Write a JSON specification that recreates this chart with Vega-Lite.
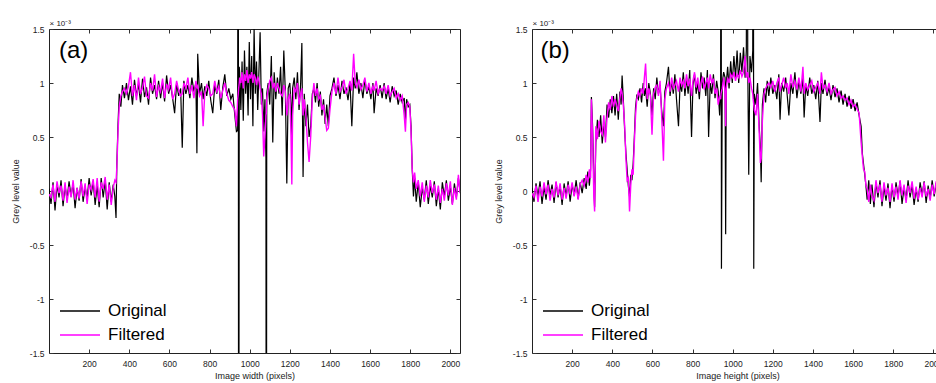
{
"$schema":"https://vega.github.io/schema/vega-lite/v6.json",
"background":"white",
"padding":{"left":10,"top":18,"right":0,"bottom":0},
"spacing":72,
"bounds":"flush",
"datasets":{
"a":[
{"x":0,"Original":0.02,"Filtered":-0.03},{"x":10,"Original":-0.12,"Filtered":-0.06},{"x":20,"Original":0.08,"Filtered":0.06},{"x":30,"Original":-0.18,"Filtered":-0.1},{"x":40,"Original":0.06,"Filtered":0.09},{"x":50,"Original":-0.06,"Filtered":-0.02},{"x":60,"Original":0.1,"Filtered":0.05},{"x":70,"Original":-0.14,"Filtered":-0.09},{"x":80,"Original":0.05,"Filtered":0.08},{"x":90,"Original":-0.08,"Filtered":-0.11},{"x":100,"Original":0.09,"Filtered":0.04},{"x":110,"Original":-0.05,"Filtered":-0.06},{"x":120,"Original":0.07,"Filtered":0.1},{"x":130,"Original":-0.16,"Filtered":-0.08},{"x":140,"Original":0.03,"Filtered":0.03},{"x":150,"Original":-0.09,"Filtered":-0.07},{"x":160,"Original":0.11,"Filtered":0.09},{"x":170,"Original":-0.1,"Filtered":-0.05},{"x":180,"Original":0.04,"Filtered":0.07},{"x":190,"Original":-0.07,"Filtered":-0.12},{"x":200,"Original":0.12,"Filtered":0.06},{"x":210,"Original":-0.04,"Filtered":0.01},{"x":220,"Original":0.09,"Filtered":0.11},{"x":230,"Original":-0.13,"Filtered":-0.06},{"x":240,"Original":0.05,"Filtered":0.12},{"x":250,"Original":-0.15,"Filtered":-0.1},{"x":260,"Original":0.12,"Filtered":0.08},{"x":270,"Original":-0.06,"Filtered":0.02},{"x":280,"Original":0.1,"Filtered":0.13},{"x":290,"Original":-0.17,"Filtered":-0.08},{"x":300,"Original":0.08,"Filtered":0.06},{"x":310,"Original":-0.1,"Filtered":-0.13},{"x":320,"Original":0.06,"Filtered":0.03},{"x":328,"Original":-0.05,"Filtered":0.1},{"x":334,"Original":-0.25,"Filtered":0.08},{"x":338,"Original":0.25,"Filtered":0.22},{"x":344,"Original":0.62,"Filtered":0.55},{"x":350,"Original":0.9,"Filtered":0.78},{"x":358,"Original":0.78,"Filtered":0.88},{"x":366,"Original":0.98,"Filtered":0.92},{"x":376,"Original":0.86,"Filtered":0.95},{"x":386,"Original":1.0,"Filtered":0.9},{"x":396,"Original":0.84,"Filtered":0.97},{"x":406,"Original":0.97,"Filtered":1.1},{"x":416,"Original":0.8,"Filtered":0.88},{"x":426,"Original":1.03,"Filtered":0.98},{"x":436,"Original":0.88,"Filtered":0.84},{"x":446,"Original":0.99,"Filtered":1.05},{"x":456,"Original":0.82,"Filtered":0.9},{"x":466,"Original":1.04,"Filtered":0.96},{"x":476,"Original":0.87,"Filtered":1.06},{"x":486,"Original":0.96,"Filtered":0.88},{"x":496,"Original":0.8,"Filtered":0.86},{"x":506,"Original":1.05,"Filtered":1.0},{"x":516,"Original":0.9,"Filtered":0.93},{"x":526,"Original":0.98,"Filtered":1.08},{"x":536,"Original":0.85,"Filtered":0.87},{"x":546,"Original":1.02,"Filtered":0.97},{"x":556,"Original":0.86,"Filtered":0.92},{"x":566,"Original":1.0,"Filtered":1.04},{"x":576,"Original":0.83,"Filtered":0.86},{"x":586,"Original":1.07,"Filtered":0.99},{"x":596,"Original":0.9,"Filtered":0.94},{"x":606,"Original":0.98,"Filtered":1.05},{"x":616,"Original":0.86,"Filtered":0.85},{"x":626,"Original":0.72,"Filtered":0.9},{"x":636,"Original":1.0,"Filtered":1.02},{"x":646,"Original":0.88,"Filtered":0.93},{"x":656,"Original":0.95,"Filtered":0.88},{"x":664,"Original":0.4,"Filtered":0.9},{"x":672,"Original":1.02,"Filtered":1.0},{"x":682,"Original":0.9,"Filtered":0.95},{"x":692,"Original":0.98,"Filtered":1.05},{"x":702,"Original":0.86,"Filtered":0.9},{"x":712,"Original":1.05,"Filtered":0.98},{"x":722,"Original":0.92,"Filtered":0.86},{"x":732,"Original":1.0,"Filtered":1.02},{"x":737,"Original":0.35,"Filtered":0.95},{"x":741,"Original":1.27,"Filtered":0.97},{"x":750,"Original":0.9,"Filtered":0.88},{"x":760,"Original":1.0,"Filtered":0.92},{"x":768,"Original":0.85,"Filtered":0.6},{"x":776,"Original":0.97,"Filtered":0.9},{"x":786,"Original":0.88,"Filtered":0.98},{"x":796,"Original":1.02,"Filtered":0.95},{"x":806,"Original":0.84,"Filtered":0.88},{"x":816,"Original":0.72,"Filtered":0.9},{"x":826,"Original":0.98,"Filtered":1.02},{"x":836,"Original":0.9,"Filtered":0.92},{"x":846,"Original":1.03,"Filtered":0.97},{"x":856,"Original":0.75,"Filtered":0.86},{"x":866,"Original":0.96,"Filtered":0.93},{"x":876,"Original":1.08,"Filtered":1.0},{"x":886,"Original":0.88,"Filtered":0.9},{"x":896,"Original":0.95,"Filtered":0.84},{"x":906,"Original":0.85,"Filtered":0.82},{"x":916,"Original":0.9,"Filtered":0.78},{"x":926,"Original":0.7,"Filtered":0.75},{"x":934,"Original":0.55,"Filtered":0.6},{"x":940,"Original":0.56,"Filtered":0.85},{"x":943,"Original":5,"Filtered":0.9},{"x":945,"Original":-5,"Filtered":0.95},{"x":948,"Original":1.15,"Filtered":1.0},{"x":950,"Original":1.1,"Filtered":1.05},{"x":956,"Original":0.75,"Filtered":1.0},{"x":962,"Original":1.2,"Filtered":1.1},{"x":968,"Original":0.65,"Filtered":0.95},{"x":974,"Original":1.3,"Filtered":1.08},{"x":980,"Original":0.9,"Filtered":1.02},{"x":986,"Original":1.15,"Filtered":1.12},{"x":992,"Original":0.7,"Filtered":1.0},{"x":998,"Original":1.38,"Filtered":1.08},{"x":1004,"Original":0.85,"Filtered":1.04},{"x":1010,"Original":1.25,"Filtered":1.1},{"x":1016,"Original":0.6,"Filtered":1.0},{"x":1022,"Original":1.5,"Filtered":1.08},{"x":1028,"Original":0.9,"Filtered":1.05},{"x":1034,"Original":1.2,"Filtered":0.98},{"x":1040,"Original":0.75,"Filtered":1.06},{"x":1046,"Original":1.1,"Filtered":1.02},{"x":1052,"Original":1.47,"Filtered":0.95},{"x":1058,"Original":0.8,"Filtered":0.9},{"x":1064,"Original":0.95,"Filtered":0.7},{"x":1070,"Original":0.55,"Filtered":0.32},{"x":1076,"Original":0.85,"Filtered":0.5},{"x":1081,"Original":0.3,"Filtered":0.7},{"x":1083,"Original":-5,"Filtered":0.72},{"x":1085,"Original":0.9,"Filtered":0.85},{"x":1092,"Original":1.0,"Filtered":0.95},{"x":1100,"Original":0.8,"Filtered":1.02},{"x":1108,"Original":1.25,"Filtered":1.05},{"x":1115,"Original":0.45,"Filtered":0.95},{"x":1122,"Original":1.1,"Filtered":1.0},{"x":1130,"Original":0.85,"Filtered":0.92},{"x":1138,"Original":1.05,"Filtered":1.0},{"x":1146,"Original":0.9,"Filtered":0.95},{"x":1154,"Original":1.15,"Filtered":0.9},{"x":1162,"Original":0.7,"Filtered":0.88},{"x":1170,"Original":1.3,"Filtered":0.98},{"x":1178,"Original":0.9,"Filtered":0.92},{"x":1185,"Original":0.07,"Filtered":0.7},{"x":1192,"Original":0.95,"Filtered":0.85},{"x":1200,"Original":1.0,"Filtered":0.9},{"x":1206,"Original":0.8,"Filtered":0.5},{"x":1210,"Original":0.5,"Filtered":0.06},{"x":1214,"Original":0.95,"Filtered":0.7},{"x":1222,"Original":1.05,"Filtered":0.95},{"x":1230,"Original":0.85,"Filtered":0.92},{"x":1238,"Original":1.1,"Filtered":1.0},{"x":1246,"Original":0.75,"Filtered":0.8},{"x":1254,"Original":1.0,"Filtered":0.9},{"x":1260,"Original":1.37,"Filtered":0.95},{"x":1266,"Original":0.13,"Filtered":0.7},{"x":1272,"Original":0.9,"Filtered":0.85},{"x":1280,"Original":0.6,"Filtered":0.7},{"x":1288,"Original":0.8,"Filtered":0.45},{"x":1296,"Original":0.5,"Filtered":0.27},{"x":1304,"Original":0.6,"Filtered":0.5},{"x":1312,"Original":0.9,"Filtered":0.85},{"x":1320,"Original":0.95,"Filtered":1.0},{"x":1328,"Original":0.82,"Filtered":0.88},{"x":1336,"Original":1.0,"Filtered":0.95},{"x":1344,"Original":0.78,"Filtered":0.85},{"x":1352,"Original":0.92,"Filtered":0.88},{"x":1360,"Original":0.7,"Filtered":0.75},{"x":1368,"Original":0.85,"Filtered":0.8},{"x":1376,"Original":0.62,"Filtered":0.68},{"x":1384,"Original":0.8,"Filtered":0.56},{"x":1392,"Original":0.6,"Filtered":0.58},{"x":1400,"Original":0.88,"Filtered":0.75},{"x":1410,"Original":0.95,"Filtered":0.92},{"x":1420,"Original":1.05,"Filtered":1.0},{"x":1430,"Original":0.88,"Filtered":0.9},{"x":1440,"Original":0.98,"Filtered":1.05},{"x":1450,"Original":0.85,"Filtered":0.92},{"x":1460,"Original":1.02,"Filtered":0.96},{"x":1470,"Original":0.9,"Filtered":1.03},{"x":1480,"Original":0.96,"Filtered":0.9},{"x":1490,"Original":0.84,"Filtered":0.95},{"x":1500,"Original":1.0,"Filtered":1.02},{"x":1509,"Original":0.6,"Filtered":0.93},{"x":1518,"Original":1.05,"Filtered":1.27},{"x":1526,"Original":0.95,"Filtered":1.0},{"x":1534,"Original":1.1,"Filtered":0.96},{"x":1544,"Original":0.9,"Filtered":1.03},{"x":1554,"Original":1.0,"Filtered":0.94},{"x":1564,"Original":0.86,"Filtered":0.98},{"x":1574,"Original":1.03,"Filtered":1.05},{"x":1584,"Original":0.9,"Filtered":0.92},{"x":1594,"Original":0.97,"Filtered":1.0},{"x":1604,"Original":0.85,"Filtered":0.9},{"x":1614,"Original":1.0,"Filtered":0.97},{"x":1620,"Original":0.72,"Filtered":0.93},{"x":1630,"Original":0.95,"Filtered":1.02},{"x":1640,"Original":0.88,"Filtered":0.9},{"x":1650,"Original":0.98,"Filtered":0.95},{"x":1660,"Original":0.86,"Filtered":0.93},{"x":1670,"Original":1.0,"Filtered":0.97},{"x":1680,"Original":0.85,"Filtered":0.9},{"x":1690,"Original":0.95,"Filtered":0.98},{"x":1700,"Original":0.82,"Filtered":0.88},{"x":1710,"Original":0.97,"Filtered":0.92},{"x":1720,"Original":0.88,"Filtered":0.95},{"x":1730,"Original":0.93,"Filtered":0.86},{"x":1740,"Original":0.8,"Filtered":0.9},{"x":1750,"Original":0.9,"Filtered":0.84},{"x":1760,"Original":0.82,"Filtered":0.88},{"x":1770,"Original":0.86,"Filtered":0.7},{"x":1776,"Original":0.65,"Filtered":0.55},{"x":1782,"Original":0.85,"Filtered":0.8},{"x":1790,"Original":0.78,"Filtered":0.82},{"x":1798,"Original":0.8,"Filtered":0.78},{"x":1804,"Original":0.6,"Filtered":0.55},{"x":1810,"Original":0.2,"Filtered":0.2},{"x":1816,"Original":-0.05,"Filtered":0.08},{"x":1822,"Original":0.12,"Filtered":0.17},{"x":1830,"Original":-0.1,"Filtered":0.02},{"x":1840,"Original":0.08,"Filtered":0.1},{"x":1850,"Original":-0.15,"Filtered":-0.05},{"x":1860,"Original":0.03,"Filtered":0.08},{"x":1870,"Original":-0.08,"Filtered":-0.1},{"x":1880,"Original":0.1,"Filtered":0.05},{"x":1890,"Original":-0.12,"Filtered":-0.06},{"x":1900,"Original":0.05,"Filtered":0.1},{"x":1910,"Original":-0.06,"Filtered":-0.02},{"x":1920,"Original":0.09,"Filtered":0.06},{"x":1930,"Original":-0.14,"Filtered":-0.08},{"x":1940,"Original":0.02,"Filtered":0.05},{"x":1950,"Original":-0.17,"Filtered":-0.11},{"x":1960,"Original":0.08,"Filtered":0.02},{"x":1970,"Original":-0.05,"Filtered":-0.09},{"x":1980,"Original":0.1,"Filtered":0.07},{"x":1990,"Original":-0.09,"Filtered":-0.04},{"x":2000,"Original":0.04,"Filtered":0.09},{"x":2010,"Original":-0.12,"Filtered":-0.13},{"x":2020,"Original":0.07,"Filtered":0.03},{"x":2030,"Original":-0.06,"Filtered":-0.08},{"x":2040,"Original":0.12,"Filtered":0.15},{"x":2048,"Original":0.0,"Filtered":-0.02}
],
"b":[
{"x":0,"Original":0.03,"Filtered":-0.02},{"x":10,"Original":-0.1,"Filtered":-0.06},{"x":20,"Original":0.07,"Filtered":0.05},{"x":30,"Original":-0.05,"Filtered":-0.1},{"x":40,"Original":0.09,"Filtered":0.04},{"x":50,"Original":-0.12,"Filtered":-0.05},{"x":60,"Original":0.04,"Filtered":0.08},{"x":70,"Original":-0.08,"Filtered":-0.03},{"x":80,"Original":0.1,"Filtered":0.06},{"x":90,"Original":-0.04,"Filtered":-0.09},{"x":100,"Original":0.06,"Filtered":0.02},{"x":110,"Original":-0.11,"Filtered":-0.06},{"x":120,"Original":0.08,"Filtered":0.09},{"x":130,"Original":-0.06,"Filtered":-0.04},{"x":140,"Original":0.05,"Filtered":0.07},{"x":150,"Original":-0.13,"Filtered":-0.08},{"x":160,"Original":0.07,"Filtered":0.03},{"x":170,"Original":-0.05,"Filtered":-0.07},{"x":180,"Original":0.09,"Filtered":0.06},{"x":190,"Original":-0.1,"Filtered":-0.03},{"x":200,"Original":0.06,"Filtered":0.08},{"x":210,"Original":-0.04,"Filtered":-0.05},{"x":220,"Original":0.1,"Filtered":0.04},{"x":230,"Original":-0.07,"Filtered":-0.08},{"x":240,"Original":0.08,"Filtered":0.06},{"x":250,"Original":-0.02,"Filtered":0.1},{"x":260,"Original":0.12,"Filtered":0.05},{"x":270,"Original":0.02,"Filtered":0.15},{"x":278,"Original":0.18,"Filtered":0.08},{"x":286,"Original":0.05,"Filtered":0.2},{"x":292,"Original":0.2,"Filtered":0.12},{"x":296,"Original":0.87,"Filtered":0.85},{"x":302,"Original":0.6,"Filtered":0.5},{"x":308,"Original":0.1,"Filtered":-0.05},{"x":312,"Original":-0.15,"Filtered":-0.19},{"x":318,"Original":0.45,"Filtered":0.6},{"x":326,"Original":0.66,"Filtered":0.48},{"x":334,"Original":0.5,"Filtered":0.65},{"x":342,"Original":0.7,"Filtered":0.55},{"x":350,"Original":0.44,"Filtered":0.52},{"x":358,"Original":0.62,"Filtered":0.7},{"x":366,"Original":0.5,"Filtered":0.45},{"x":374,"Original":0.8,"Filtered":0.68},{"x":382,"Original":0.68,"Filtered":0.82},{"x":390,"Original":0.85,"Filtered":0.75},{"x":398,"Original":0.72,"Filtered":0.88},{"x":406,"Original":0.88,"Filtered":0.78},{"x":414,"Original":0.7,"Filtered":0.85},{"x":422,"Original":0.9,"Filtered":0.8},{"x":430,"Original":0.66,"Filtered":0.74},{"x":438,"Original":0.92,"Filtered":0.86},{"x":444,"Original":0.8,"Filtered":0.95},{"x":449,"Original":1.07,"Filtered":0.9},{"x":455,"Original":0.85,"Filtered":0.8},{"x":462,"Original":0.55,"Filtered":0.6},{"x":468,"Original":0.35,"Filtered":0.3},{"x":474,"Original":0.2,"Filtered":0.1},{"x":480,"Original":0.05,"Filtered":0.12},{"x":486,"Original":-0.05,"Filtered":-0.19},{"x":492,"Original":0.15,"Filtered":0.05},{"x":498,"Original":0.1,"Filtered":0.2},{"x":504,"Original":0.25,"Filtered":0.15},{"x":510,"Original":0.5,"Filtered":0.45},{"x":516,"Original":0.78,"Filtered":0.7},{"x":522,"Original":0.88,"Filtered":0.85},{"x":530,"Original":0.85,"Filtered":0.92},{"x":538,"Original":0.95,"Filtered":0.88},{"x":546,"Original":0.82,"Filtered":0.95},{"x":554,"Original":1.0,"Filtered":0.9},{"x":560,"Original":0.88,"Filtered":1.05},{"x":566,"Original":0.95,"Filtered":1.18},{"x":574,"Original":0.78,"Filtered":0.85},{"x":582,"Original":1.0,"Filtered":0.95},{"x":590,"Original":0.9,"Filtered":0.88},{"x":598,"Original":0.7,"Filtered":0.52},{"x":606,"Original":0.95,"Filtered":0.9},{"x":614,"Original":0.85,"Filtered":0.96},{"x":622,"Original":1.05,"Filtered":0.98},{"x":630,"Original":0.9,"Filtered":0.88},{"x":638,"Original":0.98,"Filtered":1.02},{"x":646,"Original":0.75,"Filtered":0.7},{"x":655,"Original":0.6,"Filtered":0.28},{"x":662,"Original":0.92,"Filtered":0.85},{"x":670,"Original":1.0,"Filtered":0.95},{"x":680,"Original":1.15,"Filtered":1.0},{"x":688,"Original":0.88,"Filtered":0.92},{"x":696,"Original":1.02,"Filtered":1.05},{"x":704,"Original":0.9,"Filtered":0.95},{"x":712,"Original":1.08,"Filtered":0.98},{"x":720,"Original":0.85,"Filtered":1.02},{"x":730,"Original":0.6,"Filtered":0.92},{"x":738,"Original":1.0,"Filtered":1.05},{"x":746,"Original":0.92,"Filtered":0.98},{"x":754,"Original":1.1,"Filtered":1.02},{"x":762,"Original":0.88,"Filtered":0.95},{"x":770,"Original":1.05,"Filtered":1.08},{"x":778,"Original":0.9,"Filtered":0.97},{"x":786,"Original":1.12,"Filtered":1.04},{"x":795,"Original":0.5,"Filtered":0.88},{"x":802,"Original":0.98,"Filtered":1.02},{"x":810,"Original":1.08,"Filtered":1.1},{"x":818,"Original":0.9,"Filtered":0.96},{"x":826,"Original":1.0,"Filtered":1.05},{"x":834,"Original":0.85,"Filtered":0.92},{"x":842,"Original":1.1,"Filtered":1.0},{"x":850,"Original":0.95,"Filtered":1.06},{"x":858,"Original":1.05,"Filtered":0.94},{"x":866,"Original":0.88,"Filtered":1.0},{"x":874,"Original":1.12,"Filtered":1.05},{"x":880,"Original":0.5,"Filtered":0.95},{"x":888,"Original":1.0,"Filtered":1.08},{"x":896,"Original":0.9,"Filtered":1.0},{"x":904,"Original":1.08,"Filtered":1.04},{"x":912,"Original":0.86,"Filtered":0.9},{"x":920,"Original":1.02,"Filtered":0.95},{"x":928,"Original":0.92,"Filtered":0.8},{"x":935,"Original":0.7,"Filtered":0.88},{"x":940,"Original":0.95,"Filtered":0.85},{"x":942,"Original":5,"Filtered":0.9},{"x":944,"Original":-0.72,"Filtered":0.92},{"x":948,"Original":1.0,"Filtered":0.95},{"x":955,"Original":1.1,"Filtered":1.05},{"x":962,"Original":1.05,"Filtered":0.9},{"x":965,"Original":-0.4,"Filtered":0.6},{"x":968,"Original":1.0,"Filtered":0.95},{"x":975,"Original":1.15,"Filtered":1.05},{"x":982,"Original":0.95,"Filtered":1.0},{"x":990,"Original":1.2,"Filtered":1.08},{"x":998,"Original":1.0,"Filtered":1.05},{"x":1006,"Original":1.25,"Filtered":1.1},{"x":1014,"Original":1.05,"Filtered":1.02},{"x":1022,"Original":1.3,"Filtered":1.08},{"x":1030,"Original":1.0,"Filtered":1.05},{"x":1038,"Original":1.28,"Filtered":1.12},{"x":1046,"Original":1.1,"Filtered":1.06},{"x":1054,"Original":1.33,"Filtered":1.1},{"x":1062,"Original":1.05,"Filtered":1.25},{"x":1068,"Original":1.3,"Filtered":1.05},{"x":1072,"Original":5,"Filtered":1.08},{"x":1075,"Original":1.2,"Filtered":1.1},{"x":1080,"Original":0.15,"Filtered":1.0},{"x":1086,"Original":1.25,"Filtered":1.05},{"x":1094,"Original":1.1,"Filtered":0.95},{"x":1100,"Original":1.3,"Filtered":0.9},{"x":1102,"Original":5,"Filtered":0.85},{"x":1105,"Original":-0.72,"Filtered":0.8},{"x":1108,"Original":0.9,"Filtered":0.75},{"x":1116,"Original":0.8,"Filtered":0.7},{"x":1124,"Original":1.0,"Filtered":0.9},{"x":1132,"Original":0.6,"Filtered":0.55},{"x":1138,"Original":0.4,"Filtered":0.26},{"x":1142,"Original":0.08,"Filtered":0.3},{"x":1148,"Original":0.8,"Filtered":0.65},{"x":1156,"Original":0.95,"Filtered":0.9},{"x":1164,"Original":0.82,"Filtered":0.95},{"x":1172,"Original":1.02,"Filtered":0.98},{"x":1180,"Original":0.88,"Filtered":1.0},{"x":1190,"Original":1.05,"Filtered":0.96},{"x":1200,"Original":0.9,"Filtered":1.02},{"x":1210,"Original":0.98,"Filtered":0.92},{"x":1220,"Original":0.85,"Filtered":1.0},{"x":1230,"Original":1.08,"Filtered":1.05},{"x":1236,"Original":0.66,"Filtered":0.92},{"x":1244,"Original":1.0,"Filtered":0.98},{"x":1254,"Original":0.92,"Filtered":1.05},{"x":1264,"Original":1.05,"Filtered":0.95},{"x":1272,"Original":0.88,"Filtered":1.0},{"x":1280,"Original":0.7,"Filtered":0.9},{"x":1290,"Original":1.0,"Filtered":1.08},{"x":1300,"Original":0.9,"Filtered":0.96},{"x":1310,"Original":1.1,"Filtered":1.02},{"x":1320,"Original":0.86,"Filtered":0.94},{"x":1330,"Original":1.02,"Filtered":1.05},{"x":1340,"Original":0.9,"Filtered":0.92},{"x":1350,"Original":1.05,"Filtered":1.15},{"x":1356,"Original":0.68,"Filtered":0.9},{"x":1364,"Original":0.98,"Filtered":1.0},{"x":1374,"Original":0.88,"Filtered":0.94},{"x":1384,"Original":1.05,"Filtered":0.98},{"x":1394,"Original":0.9,"Filtered":1.02},{"x":1404,"Original":0.98,"Filtered":0.92},{"x":1414,"Original":0.85,"Filtered":0.96},{"x":1424,"Original":1.02,"Filtered":1.0},{"x":1435,"Original":0.64,"Filtered":0.9},{"x":1442,"Original":1.0,"Filtered":1.1},{"x":1450,"Original":0.9,"Filtered":0.95},{"x":1460,"Original":1.03,"Filtered":0.98},{"x":1470,"Original":0.88,"Filtered":0.92},{"x":1480,"Original":0.96,"Filtered":1.0},{"x":1490,"Original":0.84,"Filtered":0.9},{"x":1500,"Original":0.98,"Filtered":0.94},{"x":1510,"Original":0.87,"Filtered":0.96},{"x":1520,"Original":0.95,"Filtered":0.88},{"x":1530,"Original":0.82,"Filtered":0.92},{"x":1540,"Original":0.93,"Filtered":0.86},{"x":1550,"Original":0.8,"Filtered":0.88},{"x":1560,"Original":0.9,"Filtered":0.84},{"x":1570,"Original":0.78,"Filtered":0.86},{"x":1580,"Original":0.88,"Filtered":0.8},{"x":1590,"Original":0.76,"Filtered":0.84},{"x":1600,"Original":0.85,"Filtered":0.78},{"x":1610,"Original":0.74,"Filtered":0.8},{"x":1620,"Original":0.82,"Filtered":0.76},{"x":1630,"Original":0.7,"Filtered":0.72},{"x":1640,"Original":0.6,"Filtered":0.45},{"x":1646,"Original":0.35,"Filtered":0.32},{"x":1652,"Original":0.25,"Filtered":0.2},{"x":1658,"Original":0.15,"Filtered":0.18},{"x":1664,"Original":0.05,"Filtered":0.05},{"x":1670,"Original":-0.08,"Filtered":0.02},{"x":1678,"Original":0.1,"Filtered":-0.1},{"x":1686,"Original":-0.12,"Filtered":0.06},{"x":1694,"Original":0.06,"Filtered":-0.05},{"x":1704,"Original":-0.15,"Filtered":-0.09},{"x":1714,"Original":0.08,"Filtered":0.1},{"x":1724,"Original":-0.06,"Filtered":-0.02},{"x":1734,"Original":0.1,"Filtered":0.06},{"x":1744,"Original":-0.14,"Filtered":-0.1},{"x":1754,"Original":0.04,"Filtered":0.08},{"x":1764,"Original":-0.09,"Filtered":-0.04},{"x":1774,"Original":0.07,"Filtered":0.03},{"x":1784,"Original":-0.16,"Filtered":-0.1},{"x":1794,"Original":0.05,"Filtered":0.07},{"x":1804,"Original":-0.1,"Filtered":-0.06},{"x":1814,"Original":0.08,"Filtered":0.04},{"x":1824,"Original":-0.05,"Filtered":-0.08},{"x":1834,"Original":0.09,"Filtered":0.1},{"x":1844,"Original":-0.12,"Filtered":-0.04},{"x":1854,"Original":0.03,"Filtered":0.06},{"x":1864,"Original":-0.08,"Filtered":-0.11},{"x":1874,"Original":0.1,"Filtered":0.05},{"x":1884,"Original":-0.06,"Filtered":-0.02},{"x":1894,"Original":0.06,"Filtered":0.09},{"x":1904,"Original":-0.13,"Filtered":-0.07},{"x":1914,"Original":0.02,"Filtered":0.04},{"x":1924,"Original":-0.1,"Filtered":-0.08},{"x":1934,"Original":0.08,"Filtered":0.03},{"x":1944,"Original":-0.04,"Filtered":-0.06},{"x":1954,"Original":0.09,"Filtered":0.08},{"x":1964,"Original":-0.11,"Filtered":-0.05},{"x":1974,"Original":0.05,"Filtered":0.02},{"x":1984,"Original":-0.07,"Filtered":-0.09},{"x":1994,"Original":0.1,"Filtered":0.06},{"x":2004,"Original":-0.05,"Filtered":-0.03},{"x":2014,"Original":0.07,"Filtered":0.09},{"x":2024,"Original":-0.1,"Filtered":-0.07},{"x":2034,"Original":0.04,"Filtered":0.05},{"x":2048,"Original":-0.03,"Filtered":0.02}
]
},
"hconcat":[
{
"width":411,"height":324,
"data":{"name":"a"},
"transform":[{"fold":["Original","Filtered"],"as":["series","value"]}],
"layer":[
{"transform":[{"filter":"datum.series === 'Original'"}],
 "mark":{"type":"line","clip":true,"strokeWidth":1.2},
 "encoding":{
  "x":{"field":"x","type":"quantitative","scale":{"domain":[0,2048],"nice":false,"zero":false},"axis":{"orient":"bottom","values":[200,400,600,800,1000,1200,1400,1600,1800,2000],"format":"d","tickSize":-4,"labelPadding":10,"title":"Image width (pixels)","titlePadding":4}},
  "y":{"field":"value","type":"quantitative","scale":{"domain":[-1.5,1.5],"nice":false},"axis":{"orient":"left","values":[-1.5,-1,-0.5,0,0.5,1,1.5],"labelExpr":"replace(format(datum.value,'~g'),'−','-')","tickSize":-4,"labelPadding":9,"title":"Grey level value","titleX":-29,"titleY":162}},
  "color":{"field":"series","type":"nominal","scale":{"domain":["Original","Filtered"],"range":["#000000","#ff00ff"]},"legend":{"orient":"bottom-left","title":null,"offset":10}}
 }},
{"transform":[{"filter":"datum.series === 'Filtered'"}],
 "mark":{"type":"line","clip":true,"strokeWidth":1.4},
 "encoding":{
  "x":{"field":"x","type":"quantitative","axis":null},
  "y":{"field":"value","type":"quantitative","axis":null},
  "color":{"field":"series","type":"nominal"}
 }},
{"data":{"values":[{"label":"(a)"}]},
 "mark":{"type":"text","align":"left","baseline":"top","fontSize":24,"font":"Liberation Sans","color":"#000"},
 "encoding":{
  "text":{"field":"label"},
  "x":{"datum":50,"type":"quantitative","axis":{"orient":"top","values":[200,400,600,800,1000,1200,1400,1600,1800,2000],"labels":false,"tickSize":-4,"title":"× 10⁻³","titleAnchor":"start","titleAlign":"left","titleFontSize":8,"titleX":0,"titleY":-4,"titleBaseline":"alphabetic"}},
  "y":{"datum":1.41,"type":"quantitative","axis":{"orient":"right","values":[-1.5,-1,-0.5,0,0.5,1,1.5],"labels":false,"tickSize":-4,"title":null}}
 }}
],
"resolve":{"axis":{"x":"independent","y":"independent"}}
},
{
"width":411,"height":324,
"data":{"name":"b"},
"transform":[{"fold":["Original","Filtered"],"as":["series","value"]}],
"layer":[
{"transform":[{"filter":"datum.series === 'Original'"}],
 "mark":{"type":"line","clip":true,"strokeWidth":1.2},
 "encoding":{
  "x":{"field":"x","type":"quantitative","scale":{"domain":[0,2048],"nice":false,"zero":false},"axis":{"orient":"bottom","values":[200,400,600,800,1000,1200,1400,1600,1800,2000],"format":"d","tickSize":-4,"labelPadding":10,"title":"Image height (pixels)","titlePadding":4}},
  "y":{"field":"value","type":"quantitative","scale":{"domain":[-1.5,1.5],"nice":false},"axis":{"orient":"left","values":[-1.5,-1,-0.5,0,0.5,1,1.5],"labelExpr":"replace(format(datum.value,'~g'),'−','-')","tickSize":-4,"labelPadding":9,"title":"Grey level value","titleX":-29,"titleY":162}},
  "color":{"field":"series","type":"nominal","scale":{"domain":["Original","Filtered"],"range":["#000000","#ff00ff"]},"legend":{"orient":"bottom-left","title":null,"offset":10}}
 }},
{"transform":[{"filter":"datum.series === 'Filtered'"}],
 "mark":{"type":"line","clip":true,"strokeWidth":1.4},
 "encoding":{
  "x":{"field":"x","type":"quantitative","axis":null},
  "y":{"field":"value","type":"quantitative","axis":null},
  "color":{"field":"series","type":"nominal"}
 }},
{"data":{"values":[{"label":"(b)"}]},
 "mark":{"type":"text","align":"left","baseline":"top","fontSize":24,"font":"Liberation Sans","color":"#000"},
 "encoding":{
  "text":{"field":"label"},
  "x":{"datum":42,"type":"quantitative","axis":{"orient":"top","values":[200,400,600,800,1000,1200,1400,1600,1800,2000],"labels":false,"tickSize":-4,"title":"× 10⁻³","titleAnchor":"start","titleAlign":"left","titleFontSize":8,"titleX":0,"titleY":-4,"titleBaseline":"alphabetic"}},
  "y":{"datum":1.41,"type":"quantitative","axis":{"orient":"right","values":[-1.5,-1,-0.5,0,0.5,1,1.5],"labels":false,"tickSize":-4,"title":null}}
 }}
],
"resolve":{"axis":{"x":"independent","y":"independent"}}
}
],
"resolve":{"scale":{"color":"independent"},"legend":{"color":"independent"}},
"config":{
 "view":{"stroke":"#222","strokeWidth":1},
 "font":"Liberation Sans",
 "axis":{"labelFont":"Liberation Sans","labelFontSize":8.5,"labelColor":"#222","titleFont":"Liberation Sans","titleFontSize":9,"titleFontWeight":"normal","titleColor":"#222","tickColor":"#333","grid":false,"domain":false,"labelFlush":false},
 "legend":{"symbolType":"M-2,0H2","symbolSize":400,"symbolStrokeWidth":1.5,"symbolOffset":10,"labelFontSize":17,"labelFont":"Liberation Sans","labelColor":"#000","labelOffset":17,"rowPadding":5,"padding":0}
}
}
